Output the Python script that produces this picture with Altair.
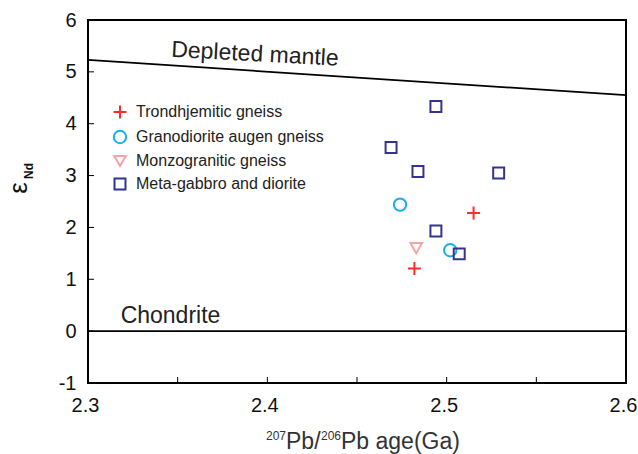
import altair as alt
import pandas as pd

# Sample groups
rock_types = ["Trondhjemitic gneiss", "Granodiorite augen gneiss",
              "Monzogranitic gneiss", "Meta-gabbro and diorite"]
rock_colors = ["#ff2b2b", "#19aef0", "#f5a3a3", "#34348f"]
cross_path = "M-1,0H1M0,-1V1"
rock_shapes = [cross_path, "circle", "triangle-down", "square"]
rock_sizes = [170, 120, 115, 90]

# Measured samples: 207Pb/206Pb age (Ga) and epsilon Nd
trond_age = [2.515, 2.482]
trond_end = [2.28, 1.21]
grano_age = [2.474, 2.502]
grano_end = [2.44, 1.56]
monzo_age = [2.483]
monzo_end = [1.60]
gabbro_age = [2.494, 2.469, 2.484, 2.529, 2.494, 2.507]
gabbro_end = [4.33, 3.54, 3.08, 3.05, 1.93, 1.49]

# Reference evolution lines
dm_age = [2.3, 2.6]
dm_end = [5.23, 4.55]
chur_age = [2.3, 2.6]
chur_end = [0.0, 0.0]

# Axis ticks
x_ticks = [2.3, 2.35, 2.4, 2.45, 2.5, 2.55, 2.6]
x_labels = [2.3, 2.4, 2.5, 2.6]
y_ticks = [-1, 0, 1, 2, 3, 4, 5, 6]

rows = []
for name, ages, vals in [(rock_types[0], trond_age, trond_end),
                         (rock_types[1], grano_age, grano_end),
                         (rock_types[2], monzo_age, monzo_end),
                         (rock_types[3], gabbro_age, gabbro_end)]:
    for a, v in zip(ages, vals):
        rows.append({"age": a, "end": v, "rock": name})
samples = pd.DataFrame(rows)

FONT = "Liberation Sans"
TXT = "#222"
xs = alt.Scale(domain=[2.3, 2.6], nice=False, zero=False)
ys = alt.Scale(domain=[-1, 6], nice=False, zero=False)

x_axis = alt.Axis(values=x_labels, format=".1f", grid=False,
                  domain=False, ticks=False, labelFontSize=20, labelFont=FONT,
                  labelColor="#111", labelPadding=12, labelFlush=False,
                  labelOffset=-3, title=None)
y_axis = alt.Axis(values=y_ticks, labelExpr="datum.value + ''", grid=False,
                  domain=False, ticks=False, labelFontSize=20, labelFont=FONT,
                  labelColor="#111", labelPadding=12, labelFlush=False,
                  title=None)

lines = pd.DataFrame({"age": dm_age + chur_age, "end": dm_end + chur_end,
                      "line": ["DM", "DM", "CHUR", "CHUR"]})
line_layer = alt.Chart(lines).mark_line(color="black", strokeWidth=1.8).encode(
    x=alt.X("age:Q", scale=xs, axis=x_axis),
    y=alt.Y("end:Q", scale=ys, axis=y_axis),
    detail="line:N")

# Inward tick marks on the bottom and left edges
xt = pd.DataFrame({"age": x_ticks})
xtick_layer = alt.Chart(xt).mark_rule(color="black", strokeWidth=1).encode(
    x=alt.X("age:Q", scale=xs), y=alt.value(363), y2=alt.value(357))
yt = pd.DataFrame({"end": y_ticks})
ytick_layer = alt.Chart(yt).mark_rule(color="black", strokeWidth=1).encode(
    y=alt.Y("end:Q", scale=ys), x=alt.value(0), x2=alt.value(6))

points = alt.Chart(samples).mark_point(filled=False, strokeWidth=2,
                                       opacity=1).encode(
    x=alt.X("age:Q", scale=xs),
    y=alt.Y("end:Q", scale=ys),
    color=alt.Color("rock:N", scale=alt.Scale(domain=rock_types, range=rock_colors),
                    legend=alt.Legend(title=None, orient="none", legendX=24,
                                      legendY=84, labelFont=FONT,
                                      labelFontSize=16, labelColor=TXT,
                                      labelLimit=400, rowPadding=3,
                                      symbolStrokeWidth=2, labelOffset=8)),
    shape=alt.Shape("rock:N", scale=alt.Scale(domain=rock_types, range=rock_shapes)),
    size=alt.Size("rock:N", scale=alt.Scale(domain=rock_types, range=rock_sizes)),
)

dm_label = pd.DataFrame({"age": [2.3931], "end": [5.34], "txt": ["Depleted mantle"]})
ch_label = pd.DataFrame({"age": [2.346], "end": [0.29], "txt": ["Chondrite"]})
dm_text = alt.Chart(dm_label).mark_text(font=FONT, fontSize=23, angle=3,
                                        color=TXT).encode(
    x=alt.X("age:Q", scale=xs), y=alt.Y("end:Q", scale=ys), text="txt:N")
ch_text = alt.Chart(ch_label).mark_text(font=FONT, fontSize=23,
                                        color=TXT).encode(
    x=alt.X("age:Q", scale=xs), y=alt.Y("end:Q", scale=ys), text="txt:N")

# Y title: epsilon with a bold "Nd" subscript, read bottom to top
eps = alt.Chart(pd.DataFrame({"t": ["ε"]})).mark_text(
    font=FONT, fontSize=26, angle=270, color="#111").encode(
    text="t:N", x=alt.value(-69), y=alt.value(168))
nd = alt.Chart(pd.DataFrame({"t": ["Nd"]})).mark_text(
    font=FONT, fontSize=12, fontWeight="bold", angle=270, color="#111").encode(
    text="t:N", x=alt.value(-59), y=alt.value(151))

# X title: 207Pb/206Pb age(Ga) with superscript mass numbers
def title_piece(txt, x, y, size):
    return alt.Chart(pd.DataFrame({"t": [txt]})).mark_text(
        font=FONT, fontSize=size, align="left", baseline="alphabetic",
        color="#333").encode(text="t:N", x=alt.value(x), y=alt.value(y))

t1 = title_piece("207", 178, 420, 12)
t2 = title_piece("Pb/", 198, 429, 23)
t3 = title_piece("206", 233, 420, 12)
t4 = title_piece("Pb age(Ga)", 253, 429, 23)

chart = alt.layer(line_layer, xtick_layer, ytick_layer, dm_text, ch_text,
                  points, eps, nd, t1, t2, t3, t4).properties(
    width=538, height=363,
    autosize=alt.AutoSizeParams(type="none"),
    padding={"left": 88, "top": 20, "right": 12, "bottom": 71},
    background="white",
).configure_view(stroke="black", strokeWidth=2)

chart.save("out.html", embed_options={"renderer": "svg", "actions": False})
